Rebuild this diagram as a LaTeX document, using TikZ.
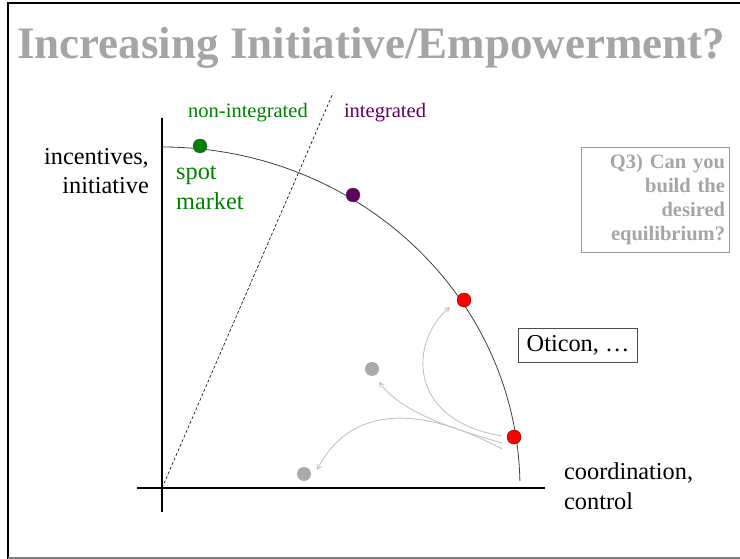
\documentclass[tikz,border=0pt]{standalone}
\usepackage{fontspec}
\setmainfont{Liberation Serif}
\usetikzlibrary{arrows}
\definecolor{titlegray}{RGB}{165,165,165}
\definecolor{spotgreen}{RGB}{0,128,0}
\definecolor{intpurple}{RGB}{96,0,96}
\definecolor{flowgray}{RGB}{195,195,195}
\definecolor{dotgray}{RGB}{170,170,170}

\begin{document}
\begin{tikzpicture}[x=1pt,y=-1pt,>=angle 60]
  \tikzset{dot/.style={circle,inner sep=0pt,minimum size=14pt},
           lbl/.style={font=\fontsize{24.3}{29.5}\selectfont,inner sep=0pt},
           flow/.style={->,draw=flowgray,line width=0.9pt}}
  \useasboundingbox (0,0) rectangle (740,559);
  % slide frame
  \draw[line width=2pt] (8,559) -- (8,3) -- (740,3);
  \draw[line width=2pt,gray] (8,558) -- (740,558);
  \node[font=\bfseries\fontsize{45}{50}\selectfont,text=titlegray,anchor=base west,inner sep=0pt]
    (title) at (17,59) {Increasing Initiative/Empowerment?};
  % axes
  \coordinate (O) at (162,488);
  \coordinate (ytop) at (162,118);
  \coordinate (ybot) at (162,512);
  \coordinate (xleft) at (137,488);
  \coordinate (xright) at (545,488);
  \coordinate (dtop) at (333,93);
  \draw[line width=2pt] (ybot) -- (ytop);
  \draw[line width=2pt] (xleft) -- (xright);
  \draw[dashed,line width=0.6pt,dash pattern=on 3pt off 2pt] (O) -- (dtop);
  \draw[line width=0.8pt,black!75] (162,147) arc[start angle=-90,end angle=-1.2,x radius=358,y radius=341];
  % points on the frontier
  \node[dot,fill=spotgreen,draw=black!70] (spot) at (200,146) {};
  \node[dot,fill=intpurple,draw=black!70] (integ) at (353,195) {};
  \node[dot,fill=red,draw=red!50!black] (hi) at (464,300) {};
  \node[dot,fill=red,draw=red!50!black] (oti) at (514,437) {};
  \node[dot,fill=dotgray] (mid) at (372,369) {};
  \node[dot,fill=dotgray] (low) at (304,474) {};
  % labels
  \node[font=\fontsize{20.5}{24}\selectfont,text=spotgreen] (nonint) at (248,113) {non-integrated};
  \node[font=\fontsize{20.5}{24}\selectfont,text=intpurple] (int) at (385,113) {integrated};
  \node[lbl,align=right,anchor=east] (incent) at (149,171) {incentives,\\initiative};
  \node[lbl,align=left,anchor=west,text=spotgreen] (market) at (176,188) {spot\\market};
  \node[lbl,align=left,anchor=west] (coord) at (564,486) {coordination,\\control};
  \node[lbl,draw=black!70,line width=0.7pt,inner xsep=8pt,inner ysep=7pt] (oticon) at (578,345) {Oticon, \ldots};
  \node[draw=gray!80,line width=0.8pt,text=titlegray,font=\bfseries\fontsize{20.5}{24}\selectfont,
        align=right,text width=140pt,minimum width=148pt,minimum height=105pt] (q3) at (655,200)
        {Q3) Can you\\build the\\desired\\equilibrium?};
  % moves away from Oticon
  \coordinate (s1) at (502,436);
  \coordinate (s2) at (502,443);
  \coordinate (s3) at (502,449);
  \coordinate (t1) at (450,307);
  \coordinate (t2) at (379,382);
  \coordinate (t3) at (317,470);
  \draw[flow] (s1) .. controls (405,420) and (410,340) .. (t1);
  \draw[flow] (s2) .. controls (440,425) and (400,410) .. (t2);
  \draw[flow] (s3) .. controls (420,405) and (350,405) .. (t3);
\end{tikzpicture}
\end{document}
